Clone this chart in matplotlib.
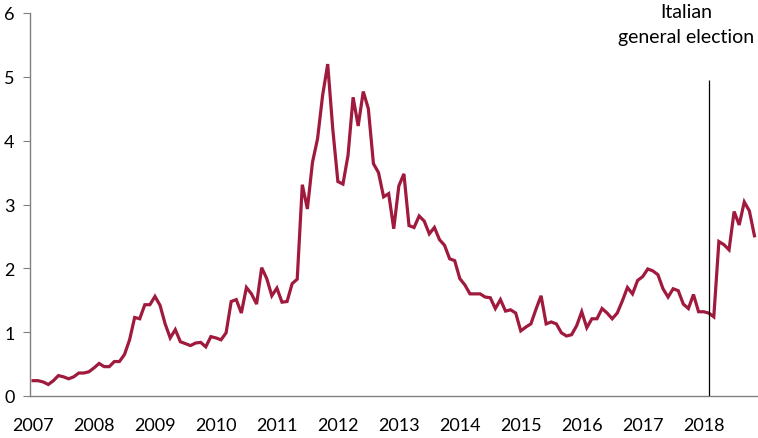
import matplotlib
matplotlib.use("Agg")
import matplotlib.pyplot as plt
import numpy as np

# Monthly values, Jan 2007 .. Nov 2018
values = [
    0.24, 0.24, 0.22, 0.18, 0.24, 0.32, 0.30, 0.27, 0.30, 0.36, 0.36, 0.38,   # 2007
    0.44, 0.51, 0.46, 0.46, 0.54, 0.54, 0.65, 0.88, 1.23, 1.21, 1.43, 1.43,   # 2008
    1.56, 1.42, 1.13, 0.91, 1.04, 0.85, 0.82, 0.79, 0.83, 0.84, 0.77, 0.93,   # 2009
    0.91, 0.88, 0.99, 1.48, 1.51, 1.30, 1.70, 1.60, 1.44, 2.01, 1.84, 1.57,   # 2010
    1.69, 1.47, 1.48, 1.76, 1.83, 3.31, 2.93, 3.66, 4.03, 4.71, 5.20, 4.18,   # 2011
    3.36, 3.32, 3.77, 4.68, 4.23, 4.77, 4.50, 3.64, 3.50, 3.12, 3.17, 2.62,   # 2012
    3.29, 3.48, 2.67, 2.64, 2.82, 2.74, 2.54, 2.64, 2.45, 2.36, 2.15, 2.12,   # 2013
    1.84, 1.74, 1.60, 1.60, 1.60, 1.55, 1.54, 1.37, 1.51, 1.33, 1.35, 1.30,   # 2014
    1.02, 1.08, 1.13, 1.36, 1.57, 1.13, 1.16, 1.13, 0.99, 0.94, 0.96, 1.10,   # 2015
    1.32, 1.07, 1.21, 1.21, 1.37, 1.30, 1.21, 1.30, 1.49, 1.70, 1.60, 1.81,   # 2016
    1.87, 1.99, 1.96, 1.90, 1.68, 1.55, 1.68, 1.65, 1.44, 1.37, 1.59, 1.32,   # 2017
    1.32, 1.30, 1.24, 2.42, 2.37, 2.29, 2.89, 2.68, 3.04, 2.90, 2.51,         # 2018
]
year_labels = ["2007", "2008", "2009", "2010", "2011", "2012",
               "2013", "2014", "2015", "2016", "2017", "2018"]
y_ticks = [0, 1, 2, 3, 4, 5, 6]
election_month = 133       # month index of the Italian general election marker
election_line_top = 4.95
annotation = "Italian\ngeneral election"

plt.rcParams['font.family'] = ['Lato', 'DejaVu Sans']

fig = plt.figure(figsize=(7.58, 4.39), dpi=100)
ax = fig.add_axes([30/758, 42/439, 728/758, 383/439])

x = np.arange(len(values))
ax.plot(x, values, color='#A01A3D', lw=2.3, solid_joinstyle='miter', zorder=2)
ax.vlines(election_month, 0, election_line_top, color='black', lw=0.9, zorder=3)

ax.set_xlim(-0.6, 142.7)
ax.set_ylim(0, 6)
ax.set_yticks(y_ticks)
ax.set_yticklabels([str(v) for v in y_ticks])
ax.set_xticks(np.arange(len(year_labels)) * 12)
ax.set_xticklabels(year_labels)

for s in ['top', 'right']:
    ax.spines[s].set_visible(False)
for s in ['left', 'bottom']:
    ax.spines[s].set_color('#808080')
    ax.spines[s].set_linewidth(1.0)

ax.tick_params(axis='y', length=5, width=0.8, color='#808080', pad=6,
               labelsize=13, labelcolor='black')
ax.tick_params(axis='x', length=0, pad=15, labelsize=13, labelcolor='black')

fig.text(686/758, 1 - 4/439, annotation, ha='center', va='top', fontsize=14,
         linespacing=1.6, color='black')

fig.savefig('out.png', dpi=100)
